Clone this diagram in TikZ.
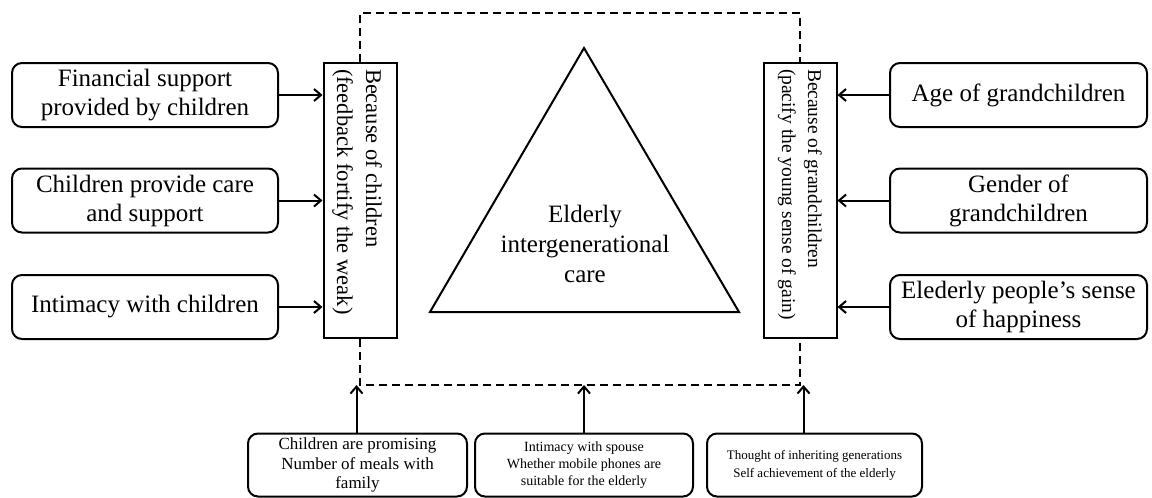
\documentclass[tikz,border=0pt]{standalone}
\usepackage{fontspec}
\setmainfont{Liberation Serif}
\usetikzlibrary{arrows.meta,calc}
\begin{document}
\begin{tikzpicture}[x=1pt,y=-1pt,line width=2pt,
  fbox/.style={draw,rounded corners=10pt,align=center,inner sep=0pt,
    minimum width=266pt,minimum height=64pt,font=\fontsize{25}{29}\selectfont},
  rbox/.style={fbox,minimum width=257pt},
  bbox/.style={draw,rounded corners=10pt,align=center,inner sep=0pt,minimum height=63pt},
  vrect/.style={draw,inner sep=0pt,minimum width=73pt,minimum height=275pt},
  arr/.style={-{Straight Barb[length=7pt,width=12pt]},line width=2pt},
  dsh/.style={dash pattern=on 8pt off 5pt,line width=2pt}]
\useasboundingbox (0,0) rectangle (1152,498);

% left factor boxes
\node[fbox] (l1) at (145,95) {Financial support\\provided by children};
\node[fbox] (l2) at (145,200.5) {Children provide care\\and support};
\node[fbox] (l3) at (145,307) {Intimacy with children};

% right factor boxes
\node[rbox] (r1) at (1018.5,95) {Age of grandchildren};
\node[rbox] (r2) at (1018.5,200.5) {Gender of\\grandchildren};
\node[rbox] (r3) at (1018.5,307) {Elederly people's sense\\of happiness};

% vertical rectangles
\node[vrect] (lr) at (360,200.5) {};
\node[rotate=-90,anchor=west,align=left,inner sep=0pt,
  font=\fontsize{22.5}{29}\selectfont] (lt) at (357,68) {Because of children\\(feedback fortify the weak)};
\node[vrect] (rr) at (800,200.5) {};
\node[rotate=-90,anchor=west,align=left,inner sep=0pt,
  font=\fontsize{19.5}{26}\selectfont] (rt) at (800,68) {Because of grandchildren\\(pacify the young sense of gain)};

% triangle
\coordinate (ta) at (584,48);
\coordinate (tb) at (739,312);
\coordinate (tc) at (430,312);
\draw (ta) -- (tb) -- (tc) -- cycle;
\node[align=center,font=\fontsize{25}{30}\selectfont] (tt) at (585,244) {Elderly\\intergenerational\\care};

% dashed frame
\coordinate (tl) at (360,13);
\coordinate (tr) at (800,13);
\coordinate (bl) at (360,385);
\coordinate (br) at (800,385);
\draw[dsh] (lr.north) -- (tl) -- (tr) -- (rr.north);
\draw[dsh] (lr.south) -- (bl) -- (br) -- (rr.south);

% bottom boxes
\node[bbox,minimum width=219pt,font=\fontsize{17}{19.5}\selectfont] (b1) at (357.5,465) {Children are promising\\Number of meals with\\family};
\node[bbox,minimum width=218pt,font=\fontsize{14}{17}\selectfont] (b2) at (584,465) {Intimacy with spouse\\Whether mobile phones are\\suitable for the elderly};
\node[bbox,minimum width=215pt,font=\fontsize{13}{18}\selectfont] (b3) at (814.5,465) {Thought of inheriting generations\\Self achievement of the elderly};

% arrows
\draw[arr] (l1.east) -- (l1.east -| lr.west);
\draw[arr] (l2.east) -- (l2.east -| lr.west);
\draw[arr] (l3.east) -- (l3.east -| lr.west);
\draw[arr] (r1.west) -- (r1.west -| rr.east);
\draw[arr] (r2.west) -- (r2.west -| rr.east);
\draw[arr] (r3.west) -- (r3.west -| rr.east);
\coordinate (a1) at ($(b1.north)+(-1,0)$);
\coordinate (a3) at ($(b3.north)+(-11,0)$);
\draw[arr] (a1) -- (a1 |- bl);
\draw[arr] (b2.north) -- (b2.north |- bl);
\draw[arr] (a3) -- (a3 |- br);
\end{tikzpicture}
\end{document}
